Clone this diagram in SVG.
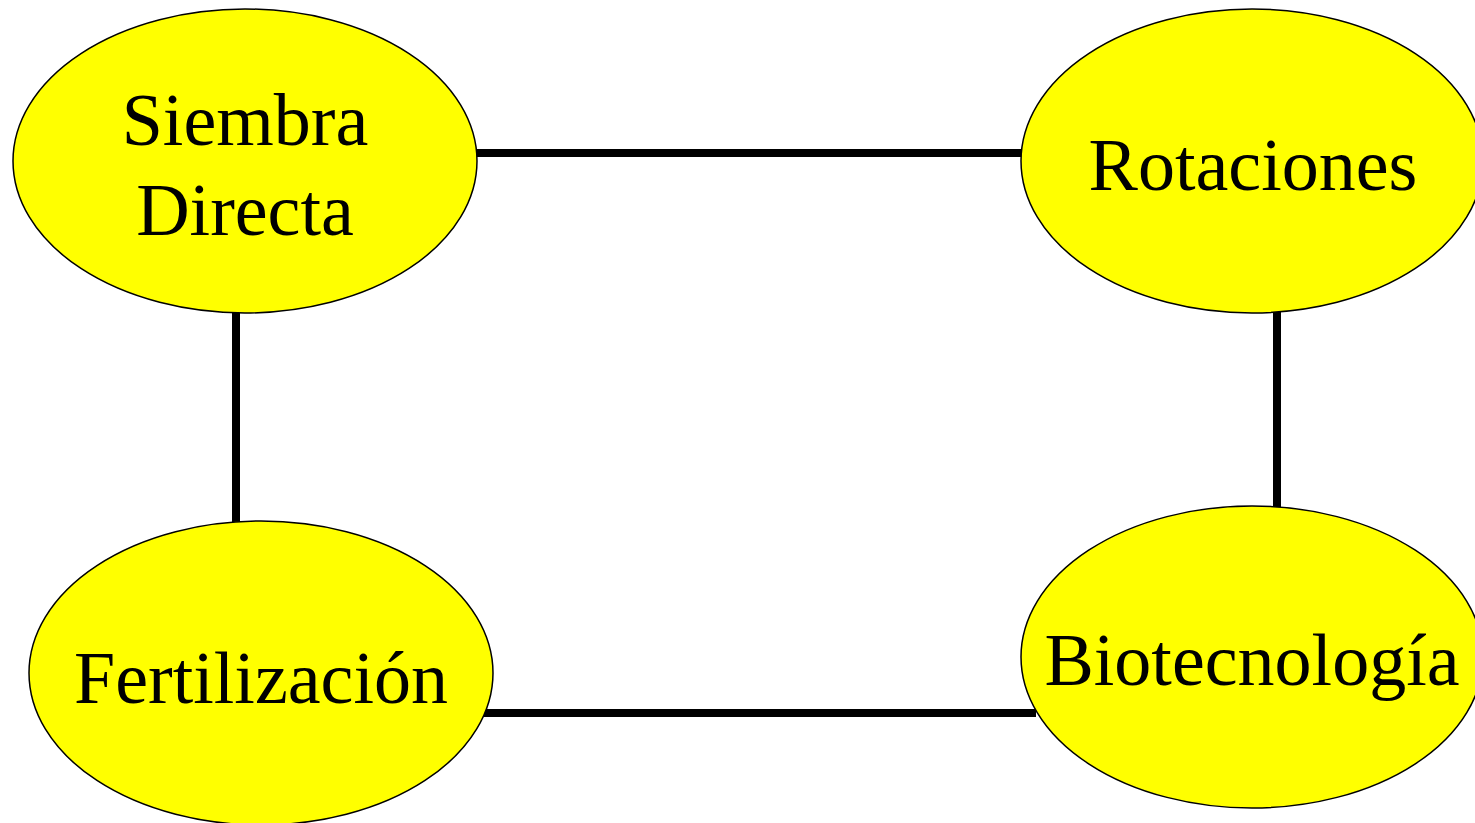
<svg xmlns="http://www.w3.org/2000/svg" width="1475" height="823" viewBox="0 0 1475 823">
<style>
.node ellipse{fill:#ffff00;stroke:#000;stroke-width:1.5}
.node text{font-family:"Liberation Serif","Times New Roman",serif;font-size:74px;fill:#000;text-anchor:middle}
.conn line{stroke:#000;stroke-width:8}
</style>
<rect width="1475" height="823" fill="#fff"/>
<g id="connectors" class="conn">
<line x1="476" y1="153" x2="1022" y2="153"/>
<line x1="236" y1="312" x2="236" y2="522"/>
<line x1="1277" y1="312" x2="1277" y2="507"/>
<line x1="484" y1="713" x2="1036" y2="713"/>
</g>
<g id="siembra" class="node">
<ellipse cx="245" cy="161" rx="232" ry="152"/>
<text x="245" y="145">Siembra</text>
<text x="245" y="235">Directa</text>
</g>
<g id="rotaciones" class="node">
<ellipse cx="1252" cy="161" rx="231" ry="152"/>
<text x="1253" y="190">Rotaciones</text>
</g>
<g id="fertilizacion" class="node">
<ellipse cx="261" cy="673" rx="232" ry="152"/>
<text x="261" y="703">Fertilización</text>
</g>
<g id="biotecnologia" class="node">
<ellipse cx="1252" cy="657" rx="231" ry="151"/>
<text x="1252" y="685">Biotecnología</text>
</g>
</svg>
